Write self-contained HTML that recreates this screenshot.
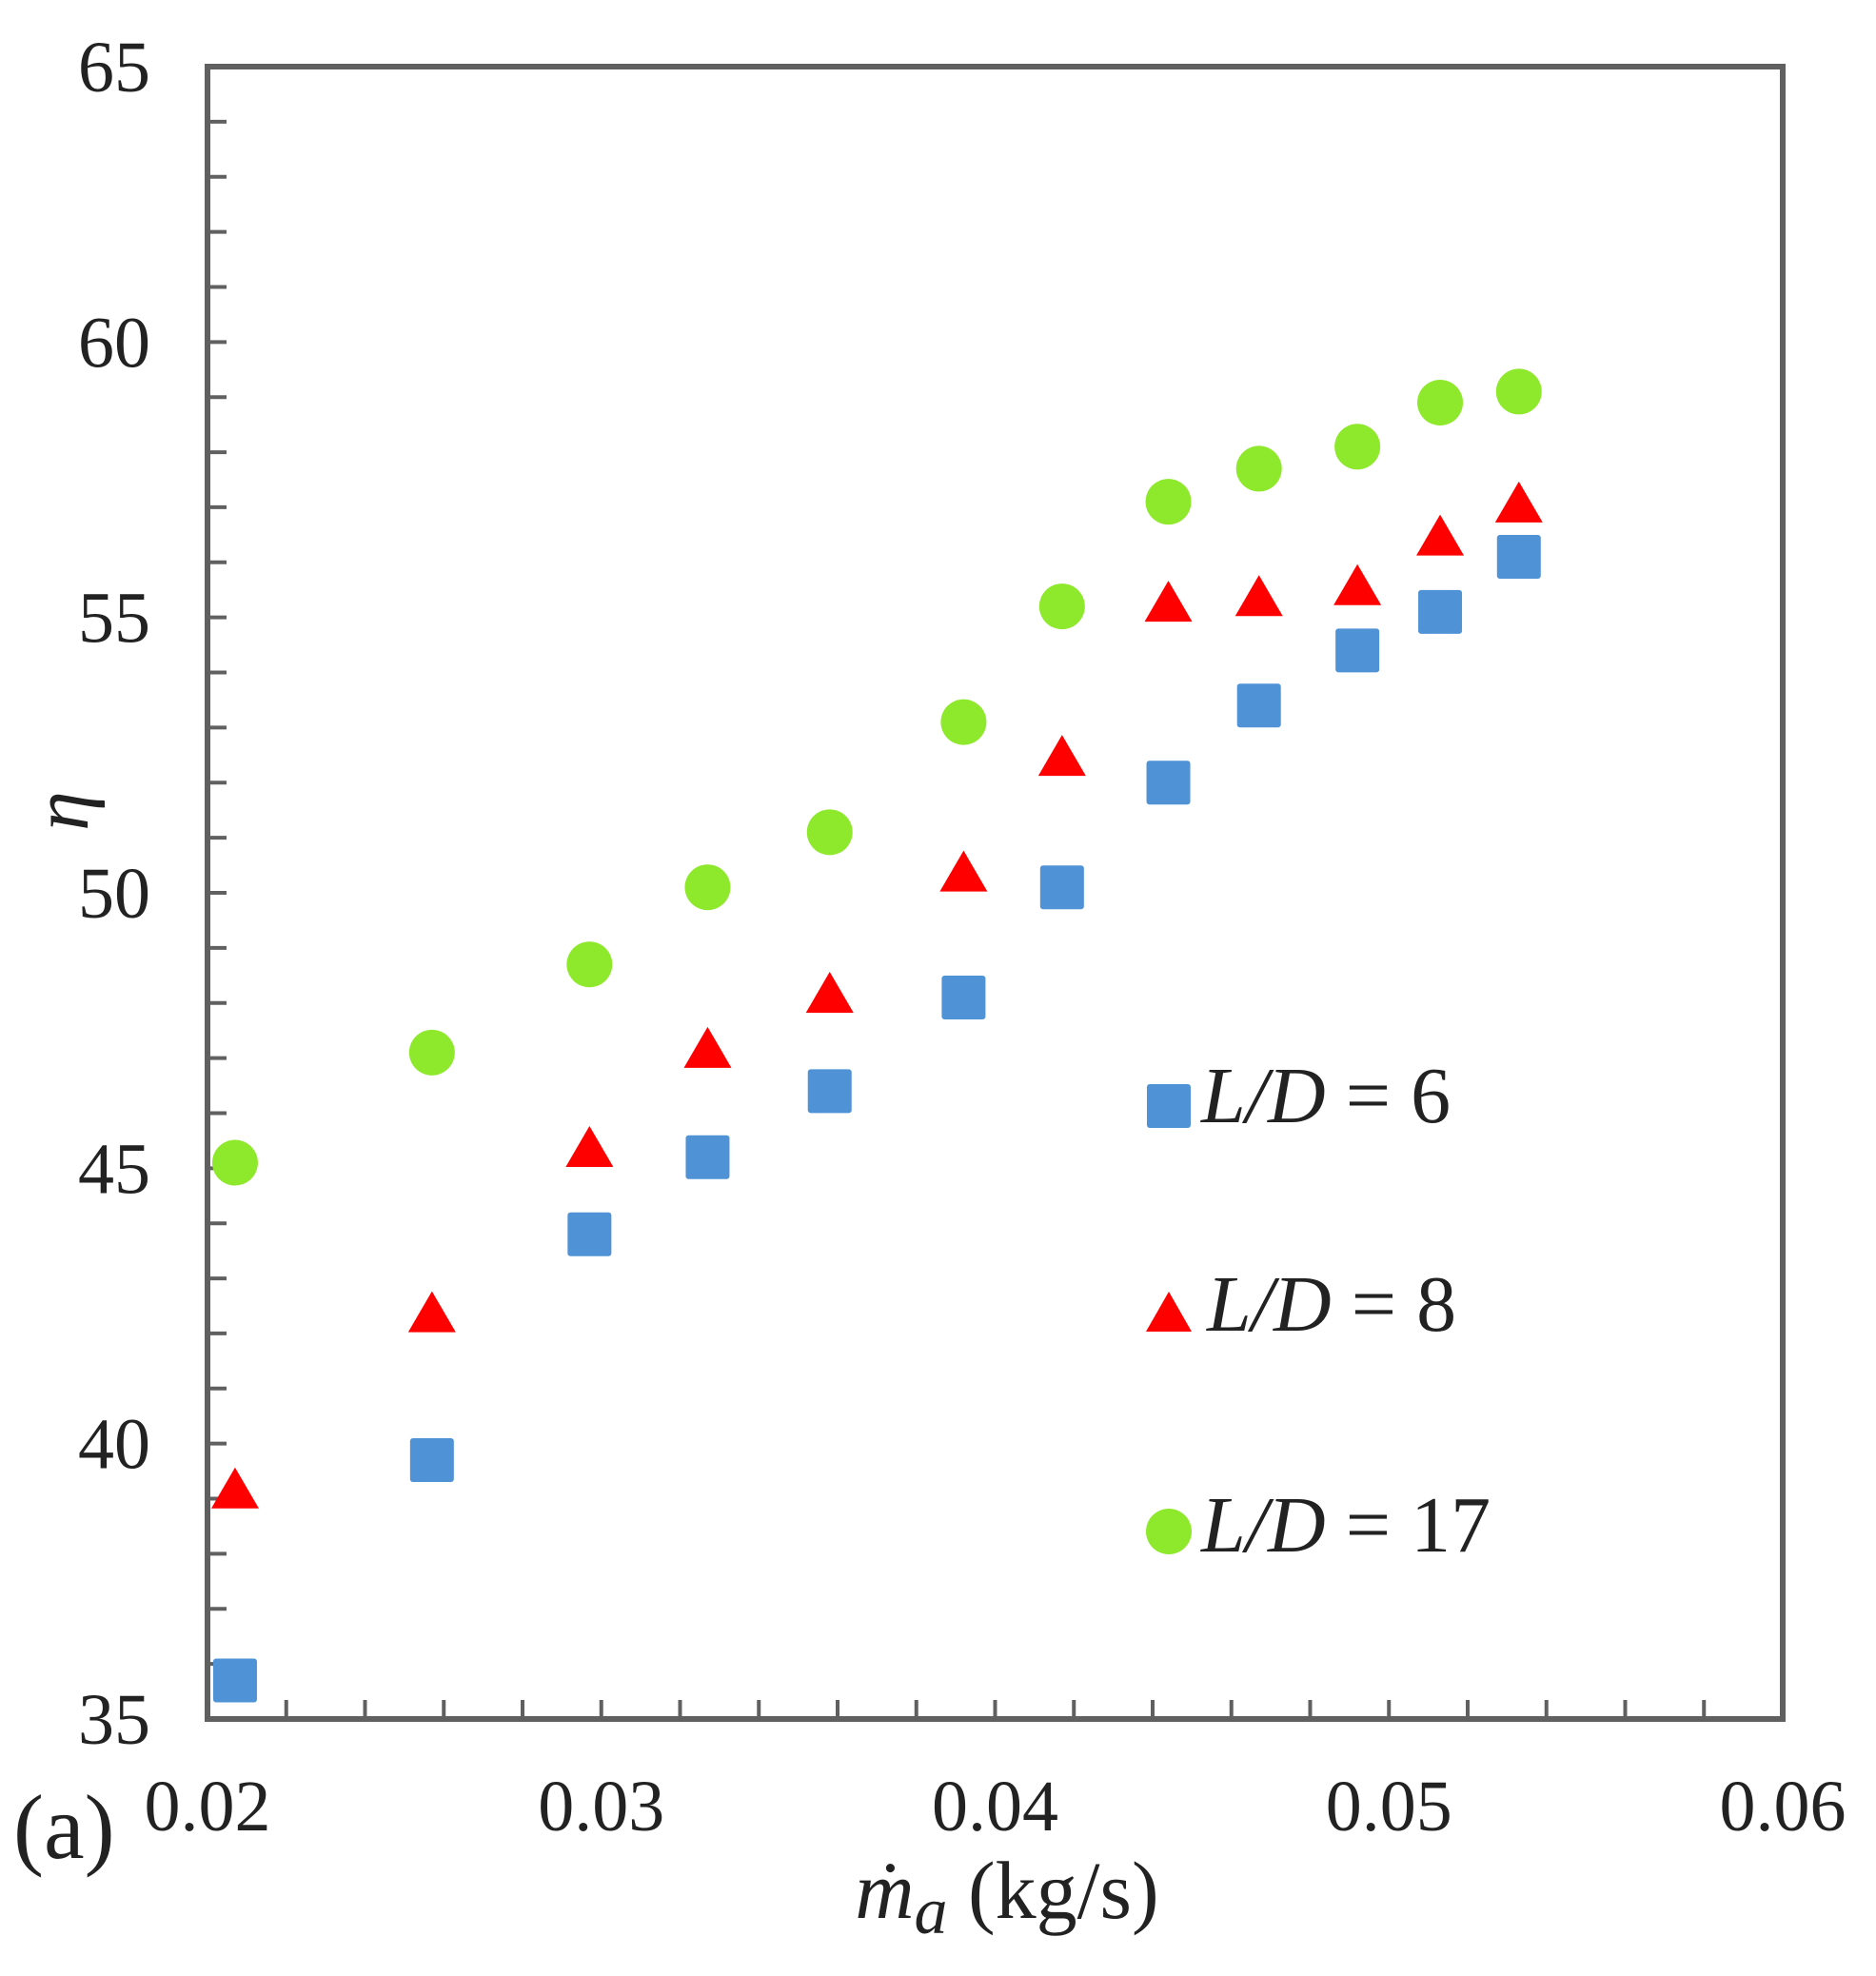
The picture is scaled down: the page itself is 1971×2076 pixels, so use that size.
<!DOCTYPE html>
<html><head><meta charset="utf-8"><style>
html,body{margin:0;padding:0;background:#fff;}
svg{display:block;font-family:"Liberation Serif",serif;}
</style></head><body>
<svg id="chart" width="1971" height="2076" viewBox="0 0 1971 2076" xmlns="http://www.w3.org/2000/svg">
<g id="axes"></g>
<g id="marks"></g>
<g id="legend">
  <rect x="1205" y="1139" width="46" height="46" rx="3" fill="#4F93D6"/>
  <text x="1262" y="1179" font-size="84" fill="#222"><tspan font-style="italic">L/D</tspan> = 6</text>
  <polygon points="1228,1357 1252,1399 1204,1399" fill="#FF0000"/>
  <text x="1268" y="1398" font-size="84" fill="#222"><tspan font-style="italic">L/D</tspan> = 8</text>
  <circle cx="1228" cy="1609" r="24" fill="#8EE82C"/>
  <text x="1262" y="1630" font-size="84" fill="#222"><tspan font-style="italic">L/D</tspan> = 17</text>
</g>
<text x="0" y="0" font-size="84" font-style="italic" fill="#222" transform="translate(92,852) rotate(-90)" text-anchor="middle">η</text>
<text x="1058" y="2015" font-size="86" fill="#222" text-anchor="middle"><tspan font-style="italic">ṁ</tspan><tspan font-style="italic" font-size="70" dy="16">a</tspan><tspan dy="-16"> (kg/s)</tspan></text>
<text x="14" y="1952" font-size="96" fill="#222">(a)</text>
</svg>
<script>
const xValues = [0.0207,0.0257,0.0297,0.0327,0.0358,0.0392,0.0417,0.0444,0.0467,0.0492,0.0513,0.0533];
const ld6 = [35.7,39.7,43.8,45.2,46.4,48.1,50.1,52.0,53.4,54.4,55.1,56.1];
const ld8 = [39.1,42.3,45.3,47.1,48.1,50.3,52.4,55.2,55.3,55.5,56.4,57.0];
const ld17 = [45.1,47.1,48.7,50.1,51.1,53.1,55.2,57.1,57.7,58.1,58.9,59.1];
const yTicks = [35,40,45,50,55,60,65];
const xTicks = [0.02,0.03,0.04,0.05,0.06];
const xTickLabels = ["0.02","0.03","0.04","0.05","0.06"];

const L=218,R=1873,T=70,B=1806;
const X=v=>L+(v-0.02)/0.04*(R-L);
const Y=v=>B-(v-35)/30*(B-T);
const NS="http://www.w3.org/2000/svg";
function mk(tag,attrs,parent){const e=document.createElementNS(NS,tag);for(const k in attrs)e.setAttribute(k,attrs[k]);parent.appendChild(e);return e;}
const axes=document.getElementById('axes');
const marks=document.getElementById('marks');

const frame=mk('rect',{x:L,y:T,width:R-L,height:B-T,fill:'none',stroke:'#606060','stroke-width':6},axes);



for(let v=36;v<65;v++){
  const t=mk('line',{x1:L,x2:L+20,y1:Y(v),y2:Y(v),stroke:'#606060','stroke-width':4},axes);
  
  
}
for(let i=1;i<20;i++){
  const v=0.02+i*0.002;
  const t=mk('line',{x1:X(v),x2:X(v),y1:B,y2:B-20,stroke:'#606060','stroke-width':4},axes);
  
  
}
yTicks.forEach(v=>{
  const t=mk('text',{x:158,y:Y(v)+26,'font-size':76,'text-anchor':'end',fill:'#222'},axes);
  t.textContent=String(v);
  
  
});
xTicks.forEach((v,i)=>{
  const t=mk('text',{x:X(v),y:1923,'font-size':76,'text-anchor':'middle',fill:'#222'},axes);
  t.textContent=xTickLabels[i];
  
  
});

xValues.forEach((xv,i)=>{
  const s=mk('rect',{x:X(xv)-23,y:Y(ld6[i])-23,width:46,height:46,rx:3,fill:'#4F93D6'},marks);
  
  
  const cx=X(xv),cy=Y(ld8[i]);
  const tr=mk('polygon',{points:`${cx},${cy-27} ${cx+25},${cy+16} ${cx-25},${cy+16}`,fill:'#FF0000'},marks);
  
  
  const c=mk('circle',{cx:X(xv),cy:Y(ld17[i]),r:24,fill:'#8EE82C'},marks);
  
  
});
</script>
</body></html>
